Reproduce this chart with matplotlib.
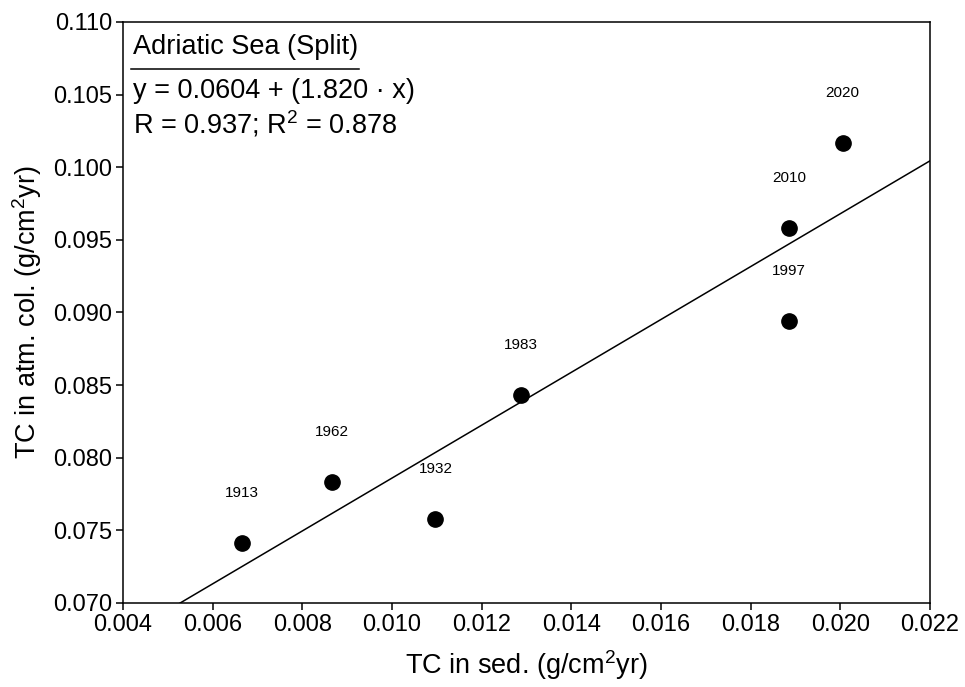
import matplotlib
matplotlib.use("Agg")
import matplotlib.pyplot as plt
import numpy as np

plt.rcParams['font.family'] = ['Liberation Sans', 'DejaVu Sans']
plt.rcParams['mathtext.fontset'] = 'custom'
plt.rcParams['mathtext.rm'] = 'Liberation Sans'
plt.rcParams['mathtext.it'] = 'Liberation Sans:italic'

# -----------------------------
# Data
# -----------------------------
years = ['1913', '1932', '1962', '1983', '1997', '2010', '2020']
tc_sed = [0.00665, 0.01097, 0.00866, 0.01287, 0.01886, 0.01886, 0.02005]
tc_atm = [0.0741, 0.0758, 0.0783, 0.0843, 0.0894, 0.0958, 0.1017]

intercept = 0.0604
slope = 1.820
r_value = 0.937
r2_value = 0.878

x_ticks = [0.004, 0.006, 0.008, 0.010, 0.012, 0.014, 0.016, 0.018, 0.020, 0.022]
y_ticks = [0.070, 0.075, 0.080, 0.085, 0.090, 0.095, 0.100, 0.105, 0.110]


# -----------------------------
# Scatter with regression line
# -----------------------------
def plot_regression():
    fig = plt.figure(figsize=(9.65, 6.87), dpi=100)
    ax = fig.add_axes([0.1275, 0.1223, 0.8362, 0.8457])

    xs = np.array([x_ticks[0], x_ticks[-1]])
    ax.plot(xs, intercept + slope * xs, color='black', linewidth=1.1)
    ax.plot(tc_sed, tc_atm, 'o', color='black', markersize=11)

    for x, y, yr in zip(tc_sed, tc_atm, years):
        ax.annotate(yr, (x, y), xytext=(0, 36), textcoords='offset points',
                    ha='center', va='center', fontsize=11)

    ax.set_xlim(x_ticks[0], x_ticks[-1])
    ax.set_ylim(y_ticks[0], y_ticks[-1])
    ax.set_xticks(x_ticks)
    ax.set_yticks(y_ticks)
    ax.set_xticklabels([f"{v:.3f}" for v in x_ticks])
    ax.set_yticklabels([f"{v:.3f}" for v in y_ticks])
    ax.tick_params(direction='out', length=5, width=1.1, labelsize=17, pad=3)
    for sp in ax.spines.values():
        sp.set_linewidth(1.1)

    ax.set_xlabel("TC in sed. (g/cm$^{2}$yr)", fontsize=19.5, labelpad=9)
    ax.set_ylabel("TC in atm. col. (g/cm$^{2}$yr)", fontsize=19.5, labelpad=6)

    # legend-like text block
    ax.text(0.0124, 0.957, "Adriatic Sea (Split)", transform=ax.transAxes,
            fontsize=19.5, va='center', ha='left')
    ax.plot([0.0099, 0.2924], [0.919, 0.919], transform=ax.transAxes,
            color='black', linewidth=1.1, clip_on=False)
    ax.text(0.0124, 0.881, f"y = {intercept:.4f} + ({slope:.3f} \u00b7 x)",
            transform=ax.transAxes, fontsize=19.5, va='center', ha='left')
    ax.text(0.0124, 0.824, f"R = {r_value:.3f}; R$^2$ = {r2_value:.3f}",
            transform=ax.transAxes, fontsize=19.5, va='center', ha='left')

    fig.savefig("out.png", dpi=100)


plot_regression()
